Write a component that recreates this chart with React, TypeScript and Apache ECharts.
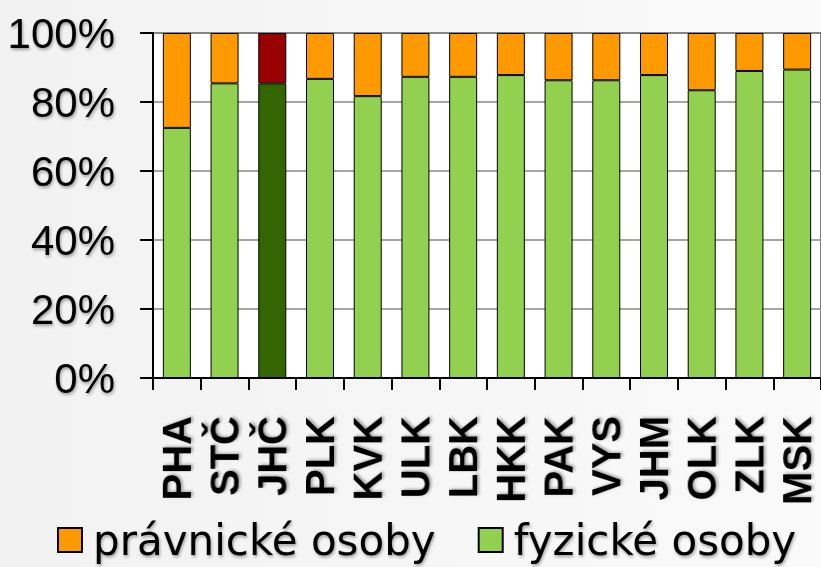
import React, { useEffect, useRef } from "react";
import * as echarts from "echarts";

const categories = ["PHA", "STČ", "JHČ", "PLK", "KVK", "ULK", "LBK", "HKK", "PAK", "VYS", "JHM", "OLK", "ZLK", "MSK"];
const fyzickeOsoby = [72.5, 85.4, 85.4, 86.7, 81.7, 87.3, 87.3, 87.8, 86.3, 86.3, 87.8, 83.4, 89.0, 89.4];
const pravnickeOsoby = [27.5, 14.6, 14.6, 13.3, 18.3, 12.7, 12.7, 12.2, 13.7, 13.7, 12.2, 16.6, 11.0, 10.6];
const highlightIndex = 2;
const yTicks = [0, 20, 40, 60, 80, 100];

const ORANGE = "#FF9900";
const GREEN = "#92D050";
const DARK_GREEN = "#336600";
const DARK_RED = "#990000";

const shadow = {
  textShadowColor: "rgba(0,0,0,0.35)",
  textShadowBlur: 3,
  textShadowOffsetX: 1,
  textShadowOffsetY: 2,
};

export default function App() {
  const ref = useRef<HTMLDivElement>(null);
  useEffect(() => {
    if (!ref.current) return;
    const chart = echarts.init(ref.current, null, { renderer: "svg" });
    chart.setOption({
      animation: false,
      backgroundColor: "transparent",
      grid: {
        left: 153,
        top: 33,
        bottom: 189,
        right: -2,
        show: true,
        backgroundColor: "#ffffff",
        borderColor: "#000000",
        borderWidth: 1,
      },
      legend: {
        data: ["právnické osoby", "fyzické osoby"],
        left: 57,
        top: 518,
        padding: 0,
        itemWidth: 24,
        itemHeight: 24,
        itemGap: 42,
        icon: "rect",
        textStyle: {
          fontFamily: "DejaVu Sans",
          fontSize: 42,
          lineHeight: 44,
          color: "#000",
          padding: [0, 0, 0, 6],
          ...shadow,
        },
      },
      xAxis: {
        type: "category",
        data: categories,
        axisLine: { lineStyle: { color: "#000", width: 2 } },
        axisTick: { show: true, length: 12, lineStyle: { color: "#000", width: 2 } },
        axisLabel: {
          rotate: 90,
          margin: 38,
          interval: 0,
          fontFamily: "Liberation Sans",
          fontWeight: "bold",
          fontSize: 40,
          color: "#000",
          ...shadow,
        },
      },
      yAxis: {
        type: "value",
        min: yTicks[0],
        max: yTicks[yTicks.length - 1],
        interval: 20,
        axisLine: { show: true, lineStyle: { color: "#000", width: 2 } },
        axisTick: { show: true, length: 13, lineStyle: { color: "#000", width: 2 } },
        splitLine: { lineStyle: { color: "#888888", width: 1.5 } },
        axisLabel: {
          margin: 38,
          formatter: "{value}%",
          fontFamily: "Liberation Sans",
          fontSize: 42,
          color: "#000",
          ...shadow,
        },
      },
      series: [
        {
          name: "fyzické osoby",
          type: "bar",
          stack: "total",
          barWidth: 28,
          itemStyle: { color: GREEN, borderColor: "#000", borderWidth: 1 },
          data: fyzickeOsoby.map((v, i) =>
            i === highlightIndex ? { value: v, itemStyle: { color: DARK_GREEN } } : v
          ),
        },
        {
          name: "právnické osoby",
          type: "bar",
          stack: "total",
          barWidth: 28,
          itemStyle: { color: ORANGE, borderColor: "#000", borderWidth: 1 },
          data: pravnickeOsoby.map((v, i) =>
            i === highlightIndex ? { value: v, itemStyle: { color: DARK_RED } } : v
          ),
        },
      ],
    });
    return () => chart.dispose();
  }, []);
  return (
    <div
      ref={ref}
      style={{
        position: "absolute",
        left: 0,
        top: 0,
        width: 821,
        height: 567,
        background: "linear-gradient(to right, #f2f2f2, #fafafa)",
      }}
    />
  );
}
